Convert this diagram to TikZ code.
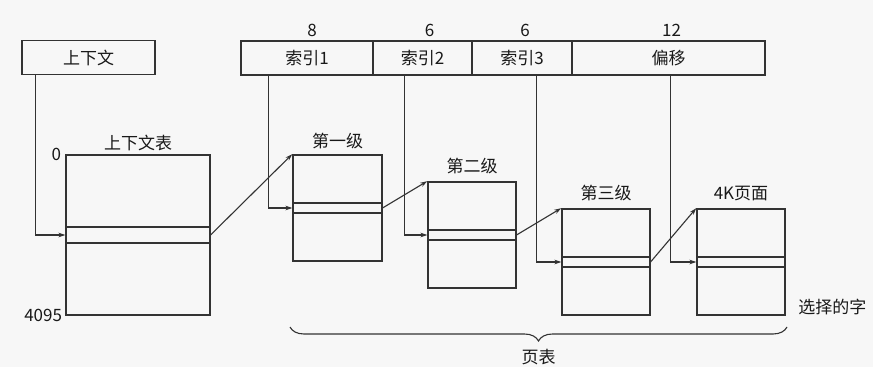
\documentclass[tikz,border=0pt]{standalone}
\usepackage{fontspec}
\newfontfamily\cjk{Noto Sans CJK SC}
\usetikzlibrary{positioning, arrows.meta, decorations.pathreplacing}

\begin{document}
\begin{tikzpicture}[
    x=1pt, y=-1pt,
    >={Stealth[length=7pt, width=4.5pt]},
    every node/.style={font=\cjk\fontsize{17}{20}\selectfont, text=black!90},
    field/.style={draw=black!80, line width=1.6pt, minimum height=34, inner sep=0pt},
    tblbox/.style={draw=black!80, line width=1.6pt, inner sep=0pt},
    entry/.style={draw=black!80, line width=1.1pt, inner sep=0pt},
    ptr/.style={->, draw=black!80, line width=1.1pt},
    brace/.style={decorate, decoration={brace, mirror, amplitude=14pt}, draw=black!80, line width=1.1pt}
]
\useasboundingbox[fill=black!3] (0,0) rectangle (873,367);

% Context register and virtual address fields
\node[field, minimum width=133] (ctx) at (88.5,57.5) {上下文};
\node[field, minimum width=132, label={[xshift=5]above:8}] (idx1) at (307,58) {索引1};
\node[field, minimum width=99, label={[xshift=7]above:6}] (idx2) at (422.5,58) {索引2};
\node[field, minimum width=100, label={[xshift=3]above:6}] (idx3) at (522,58) {索引3};
\node[field, minimum width=193, label={[xshift=3]above:12}] (off) at (668.5,58) {偏移};

% Context table
\node[tblbox, minimum width=144, minimum height=160, label=above:上下文表] (ctxtab) at (138,235) {};
\node[entry, minimum width=144, minimum height=16] (ctxrow) at (ctxtab.center) {};
\node[left=4pt of ctxtab.north west, inner sep=0pt] (zero) {0};
\node[left=3pt of ctxtab.south west, inner sep=0pt] (last) {4095};

% Three levels of page tables
\node[tblbox, minimum width=89, minimum height=106, label={[label distance=2]above:第一级}] (lvl1) at (337.5,208) {};
\node[entry, minimum width=89, minimum height=10] (lvl1row) at (lvl1.center) {};
\node[tblbox, minimum width=88, minimum height=106, label={[label distance=4]above:第二级}] (lvl2) at (472,235) {};
\node[entry, minimum width=88, minimum height=10] (lvl2row) at (lvl2.center) {};
\node[tblbox, minimum width=88, minimum height=106, label={[label distance=4]above:第三级}] (lvl3) at (606,262) {};
\node[entry, minimum width=88, minimum height=10] (lvl3row) at (lvl3.center) {};

% 4K page
\node[tblbox, minimum width=88, minimum height=106, label={[label distance=4]above:4K页面}] (page) at (741,262) {};
\node[entry, minimum width=88, minimum height=10] (pagerow) at (page.center) {};
\node[anchor=west] (word) at ([xshift=9, yshift=9]page.south east) {选择的字};

% Index lines
\draw[ptr] ([xshift=14]ctx.south west) |- (ctxrow.west);
\draw[ptr] ([xshift=28]idx1.south west) |- (lvl1row.west);
\draw[ptr] ([xshift=32]idx2.south west) |- (lvl2row.west);
\draw[ptr] ([xshift=65]idx3.south west) |- (lvl3row.west);
\draw[ptr] ([xshift=99]off.south west) |- (pagerow.west);

% Table pointers
\draw[ptr] (ctxrow.east) -- (lvl1.north west);
\draw[ptr] (lvl1row.east) -- (lvl2.north west);
\draw[ptr] (lvl2row.east) -- (lvl3.north west);
\draw[ptr] (lvl3row.east) -- (page.north west);

% Brace under the page tables
\coordinate (brL) at (290,327);
\coordinate (brR) at (787,327);
\draw[brace] (brL) -- (brR) node[midway, below=18pt] (ptab) {页表};

\end{tikzpicture}
\end{document}
